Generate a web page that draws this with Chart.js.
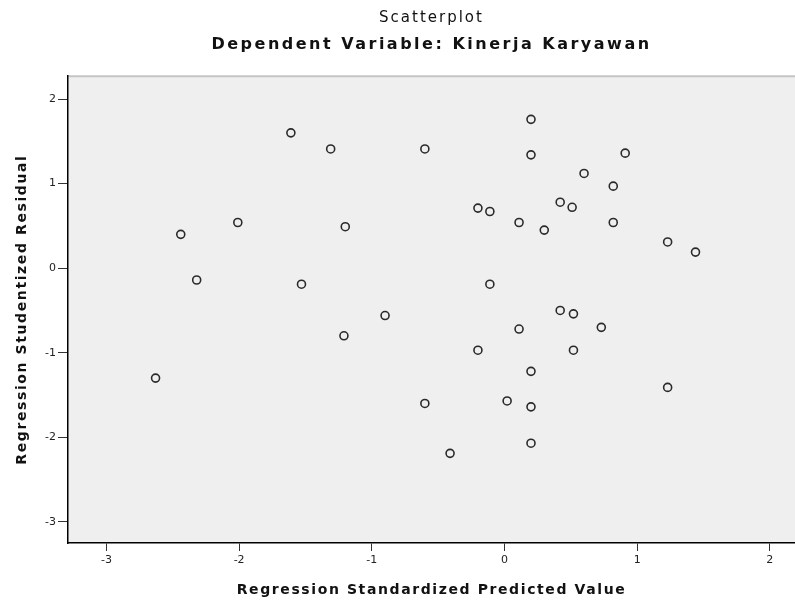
<!DOCTYPE html>
<html>
<head>
<meta charset="utf-8">
<script src="https://cdn.jsdelivr.net/npm/chart.js@4.4.1/dist/chart.umd.min.js"></script>
<style>
  html, body { margin: 0; padding: 0; background: #ffffff; }
  #wrap { width: 795px; height: 602px; position: relative; }
</style>
</head>
<body>
<div id="wrap"><canvas id="c" width="795" height="602"></canvas></div>
<script>
// ---- data ----
const chartTitle = 'Scatterplot';
const chartSubtitle = 'Dependent Variable: Kinerja Karyawan';
const xAxisTitle = 'Regression Standardized Predicted Value';
const yAxisTitle = 'Regression Studentized Residual';

const predictedValues = [
  -1.61, -1.31, -0.60, 0.20, 0.20, 0.60, 0.91, 0.82, 0.42, 0.51,
  -0.20, -0.11, 0.11, 0.30, 0.82, 1.23, 1.44, -2.44, -2.01, -1.20,
  -2.32, -1.53, -0.11, -0.90, -1.21, 0.42, 0.52, 0.11, 0.73, -0.20,
  0.52, 0.20, -2.63, 1.23, -0.60, 0.02, 0.20, 0.20, -0.41
];
const studentizedResiduals = [
  1.60, 1.41, 1.41, 1.76, 1.34, 1.12, 1.36, 0.97, 0.78, 0.72,
  0.71, 0.67, 0.54, 0.45, 0.54, 0.31, 0.19, 0.40, 0.54, 0.49,
  -0.14, -0.19, -0.19, -0.56, -0.80, -0.50, -0.54, -0.72, -0.70, -0.97,
  -0.97, -1.22, -1.30, -1.41, -1.60, -1.57, -1.64, -2.07, -2.19
];
const xTickValues = [-3, -2, -1, 0, 1, 2];
const yTickValues = [-3, -2, -1, 0, 1, 2];

const points = predictedValues.map((x, i) => ({ x: x, y: studentizedResiduals[i] }));

// ---- text letter spacing (reference text is horizontally stretched) ----
const canvas = document.getElementById('c');
const ctx = canvas.getContext('2d');
const spacingBySize = { '15': '2px', '16': '2.5px', '14': '1.6px' };
const origFillText = ctx.fillText.bind(ctx);
ctx.fillText = function (t, x, y, mw) {
  const m = /(\d+(?:\.\d+)?)px/.exec(ctx.font);
  const ls = m && spacingBySize[m[1]] ? spacingBySize[m[1]] : '0px';
  const prev = ctx.letterSpacing;
  try { ctx.letterSpacing = ls; } catch (e) {}
  if (mw === undefined) origFillText(t, x, y); else origFillText(t, x, y, mw);
  try { ctx.letterSpacing = prev || '0px'; } catch (e) {}
};

const plotBackground = {
  id: 'plotBackground',
  beforeDraw(chart) {
    const { ctx, chartArea: a } = chart;
    ctx.save();
    ctx.fillStyle = '#efefef';
    ctx.fillRect(a.left, a.top, a.right - a.left, a.bottom - a.top);
    ctx.strokeStyle = '#c4c4c4';
    ctx.lineWidth = 2;
    ctx.beginPath();
    ctx.moveTo(a.left, a.top);
    ctx.lineTo(a.right, a.top);
    ctx.stroke();
    ctx.restore();
  }
};

new Chart(ctx, {
  type: 'scatter',
  data: {
    datasets: [{
      data: points,
      pointStyle: 'circle',
      pointRadius: 4,
      pointHoverRadius: 4,
      pointBorderWidth: 1.6,
      borderColor: '#2a2a2a',
      backgroundColor: 'rgba(0,0,0,0)'
    }]
  },
  options: {
    responsive: false,
    animation: false,
    events: [],
    layout: { autoPadding: false, padding: { left: 0, right: 0, top: 0, bottom: 0 } },
    plugins: {
      legend: { display: false },
      tooltip: { enabled: false },
      title: {
        display: true,
        text: chartTitle,
        fullSize: false,
        color: '#111',
        font: { family: 'DejaVu Sans', size: 15, weight: 'normal', lineHeight: 1.2 },
        padding: { top: 9, bottom: 5 }
      },
      subtitle: {
        display: true,
        text: chartSubtitle,
        fullSize: false,
        color: '#111',
        font: { family: 'DejaVu Sans', size: 16, weight: 'bold', lineHeight: 1.2 },
        padding: { top: 3, bottom: 22 }
      }
    },
    scales: {
      x: {
        type: 'linear',
        position: 'bottom',
        min: -3.29,
        max: 2.19,
        afterBuildTicks(scale) { scale.ticks = xTickValues.map(v => ({ value: v })); },
        afterFit(scale) { scale.height = 59; scale.paddingLeft = 0; scale.paddingRight = 0; },
        grid: { drawOnChartArea: false, drawTicks: true, tickLength: 8, color: '#333', lineWidth: 1 },
        border: { display: true, color: '#000', width: 1.5 },
        ticks: {
          color: '#222',
          padding: 3,
          font: { family: 'DejaVu Sans', size: 11 },
          callback: v => String(v)
        },
        title: {
          display: true,
          text: xAxisTitle,
          color: '#111',
          font: { family: 'DejaVu Sans', size: 14, weight: 'bold', lineHeight: 1.2 },
          padding: { top: 0, bottom: 3 }
        }
      },
      y: {
        type: 'linear',
        position: 'left',
        min: -3.25,
        max: 2.27,
        afterBuildTicks(scale) { scale.ticks = yTickValues.map(v => ({ value: v })); },
        afterFit(scale) { scale.width = 68; scale.paddingTop = 0; scale.paddingBottom = 0; },
        grid: { drawOnChartArea: false, drawTicks: true, tickLength: 10, color: '#333', lineWidth: 1 },
        border: { display: true, color: '#000', width: 1.5 },
        ticks: {
          color: '#222',
          padding: 2,
          font: { family: 'DejaVu Sans', size: 11 },
          callback: v => String(v)
        },
        title: {
          display: true,
          text: yAxisTitle,
          color: '#111',
          font: { family: 'DejaVu Sans', size: 14, weight: 'bold', lineHeight: 1.2 },
          padding: { top: 14, bottom: 0 }
        }
      }
    }
  },
  plugins: [plotBackground]
});
</script>
</body>
</html>
